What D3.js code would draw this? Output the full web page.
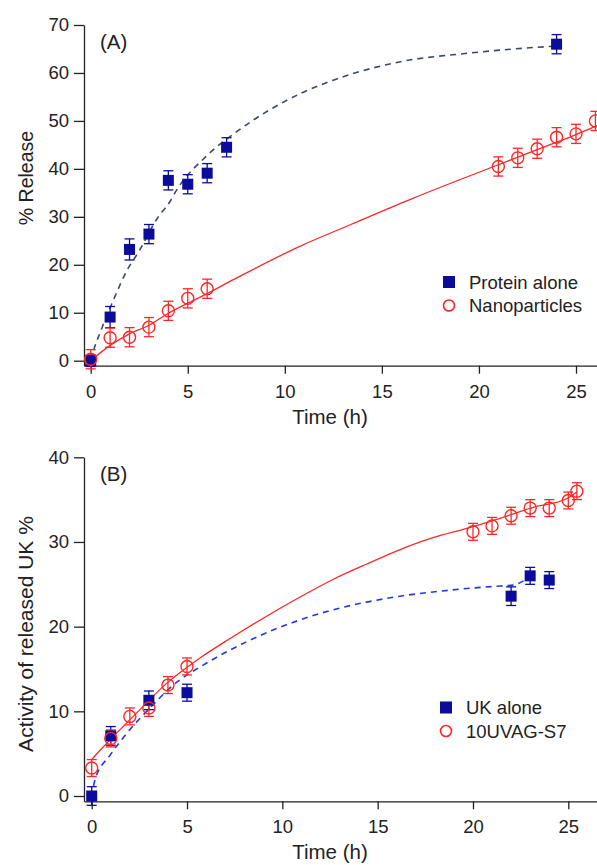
<!DOCTYPE html>
<html>
<head>
  <meta charset="utf-8">
  <title>Release profiles</title>
  <script src="https://cdn.jsdelivr.net/npm/d3@7"></script>
  <style>
    body { margin: 0; background: #fff; }
    svg text { font-family: "Liberation Sans", Arial, sans-serif; fill: #222; }
  </style>
</head>
<body>
<div id="container"></div>
<script>
  // ---- panel A data ----
  var timeProtein = [0, 1, 2, 3, 4, 5, 6, 7, 24];
  var releaseProtein = [0, 9.1, 23.2, 26.4, 37.6, 36.8, 39.1, 44.5, 66.0];
  var errProtein = [1.2, 2.2, 2.2, 2.0, 2.0, 2.0, 2.0, 2.0, 2.0];

  var timeNano = [0, 1, 2, 3, 4, 5, 6, 21, 22, 23, 24, 25, 26];
  var releaseNano = [0.3, 4.8, 4.9, 7.0, 10.4, 13.0, 15.0, 40.5, 42.3, 44.2, 46.6, 47.3, 50.0];
  var errNano = [2, 2, 2, 2, 2, 2, 2, 2, 2, 2, 2, 2, 2];

  // fitted curves, panel A
  var fitProteinT = [0, 0.2, 0.5, 1.25, 1.85, 2.5, 3.4, 4.1, 4.4, 6, 7.5, 10.8, 12.5, 15.9, 19.4, 22.8, 24];
  var fitProteinY = [0, 2.8, 6, 13.4, 18.7, 22.9, 29.5, 33.3, 35.4, 42.8, 47.7, 55.7, 58.5, 62.3, 64.1, 65.3, 65.6];
  var fitNanoT = [0, 1, 2, 3, 4, 5, 6, 7.35, 10.8, 13.4, 16.5, 20.9, 23, 24.9, 26.2];
  var fitNanoY = [0, 3.2, 5.6, 7.4, 9.9, 12, 14, 16.9, 23.9, 28.4, 33.7, 40.7, 44, 47, 49.2];

  // ---- panel B data ----
  var timeUK = [0, 1, 3, 5, 22, 23, 24];
  var activityUK = [0, 7.1, 11.3, 12.2, 23.6, 26.0, 25.5];
  var errUK = [1.1, 1.1, 1.1, 1.0, 1.1, 1.0, 1.0];

  var timeUVAG = [0, 1, 2, 3, 4, 5, 20, 21, 22, 23, 24, 25, 25.45];
  var activityUVAG = [3.3, 6.8, 9.4, 10.4, 13.1, 15.3, 31.2, 31.9, 33.1, 34.0, 34.0, 34.9, 36.0];
  var errUVAG = [1, 1, 1, 1, 1, 1, 1, 1, 1, 1, 1, 1, 1];

  var fitUKT = [0.1, 0.17, 0.96, 1.84, 3.06, 4.28, 6.03, 8.3, 10.93, 12.68, 14.43, 16.18, 17.9, 19.67, 21.42, 22.1, 22.8];
  var fitUKY = [1.2, 1.9, 4.8, 7.4, 10.4, 13.1, 15.7, 18.4, 20.8, 22.0, 22.9, 23.6, 24.1, 24.5, 24.8, 24.9, 25.6];
  var fitUVAGT = [0, 0.44, 2.18, 3.93, 5.68, 7.26, 10.93, 12.68, 14.43, 16.18, 17.9, 19.67, 21.42, 23.17, 24.9, 25.45];
  var fitUVAGY = [4.3, 5.4, 9.4, 13.3, 16.3, 18.6, 23.5, 25.6, 27.4, 29.1, 30.5, 31.6, 32.8, 34.1, 35.1, 35.9];

  var xTicks = [0, 5, 10, 15, 20, 25];
  var yTicksA = [0, 10, 20, 30, 40, 50, 60, 70];
  var yTicksB = [0, 10, 20, 30, 40];

  var blue = "#0b0b9c";
  var red = "#ff2626";

  var svg = d3.select("#container").append("svg")
    .attr("width", 597).attr("height", 865);

  function zip(a, b, e) {
    return a.map(function(d, i) { return { t: d, v: b[i], e: e ? e[i] : 0 }; });
  }

  function drawPanel(cfg) {
    var x = d3.scaleLinear().domain([0, 25]).range(cfg.xr);
    var y = d3.scaleLinear().domain([0, cfg.ymax]).range(cfg.yr);
    var g = svg.append("g");

    // axes: domain path runs from the axis corner to the edges
    var xa = x.copy().domain([x.invert(cfg.left), x.invert(597)]).range([cfg.left, 597]);
    var ya = y.copy().domain([y.invert(cfg.bottom), cfg.ymax]).range([cfg.bottom, cfg.yr[1]]);

    var gx = g.append("g").attr("transform", "translate(0," + cfg.bottom + ")")
      .call(d3.axisBottom(xa).tickValues(xTicks).tickSizeOuter(0).tickSizeInner(8).tickPadding(11));
    var gy = g.append("g").attr("transform", "translate(" + cfg.left + ",0)")
      .call(d3.axisLeft(ya).tickValues(cfg.yTicks).tickSizeOuter(0).tickSizeInner(10).tickPadding(5));
    [gx, gy].forEach(function(a) {
      a.selectAll("path,line").attr("stroke", "#222").attr("stroke-width", 1.3);
      a.selectAll("text").style("font-size", "18.5px").attr("fill", "#222");
    });

    // fitted lines
    var line = d3.line().x(function(d) { return x(d.t); }).y(function(d) { return y(d.v); })
      .curve(d3.curveMonotoneX);
    g.append("path").datum(zip(cfg.fitRedT, cfg.fitRedY))
      .attr("d", line).attr("fill", "none").attr("stroke", red).attr("stroke-width", 1.3);
    g.append("path").datum(zip(cfg.fitBlueT, cfg.fitBlueY))
      .attr("d", line).attr("fill", "none").attr("stroke", cfg.dashColor)
      .attr("stroke-width", 1.6).attr("stroke-dasharray", "6,5");

    // error bars
    function errBars(data, color) {
      var eb = g.append("g").selectAll("g").data(data).enter().append("g")
        .attr("stroke", color).attr("stroke-width", 1.3);
      eb.append("line").attr("x1", function(d) { return x(d.t); }).attr("x2", function(d) { return x(d.t); })
        .attr("y1", function(d) { return y(d.v - d.e); }).attr("y2", function(d) { return y(d.v + d.e); });
      eb.append("line").attr("x1", function(d) { return x(d.t) - 5; }).attr("x2", function(d) { return x(d.t) + 5; })
        .attr("y1", function(d) { return y(d.v + d.e); }).attr("y2", function(d) { return y(d.v + d.e); });
      eb.append("line").attr("x1", function(d) { return x(d.t) - 5; }).attr("x2", function(d) { return x(d.t) + 5; })
        .attr("y1", function(d) { return y(d.v - d.e); }).attr("y2", function(d) { return y(d.v - d.e); });
    }
    errBars(zip(cfg.blueT, cfg.blueV, cfg.blueE), blue);
    errBars(zip(cfg.redT, cfg.redV, cfg.redE), red);

    // markers
    g.append("g").selectAll("rect").data(zip(cfg.blueT, cfg.blueV)).enter().append("rect")
      .attr("x", function(d) { return x(d.t) - 5.5; }).attr("y", function(d) { return y(d.v) - 5.5; })
      .attr("width", 11).attr("height", 11).attr("fill", blue);
    g.append("g").selectAll("circle").data(zip(cfg.redT, cfg.redV)).enter().append("circle")
      .attr("cx", function(d) { return x(d.t); }).attr("cy", function(d) { return y(d.v); })
      .attr("r", 6).attr("fill", "none").attr("stroke", red).attr("stroke-width", 1.4);

    // labels
    g.append("text").attr("x", 100).attr("y", cfg.tagY).style("font-size", "20.5px").text(cfg.tag);
    g.append("text").attr("x", 330).attr("y", cfg.titleY).attr("text-anchor", "middle")
      .style("font-size", "20.5px").text("Time (h)");
    g.append("text").attr("transform", "translate(" + 33 + "," + cfg.ylabelY + ") rotate(-90)")
      .attr("text-anchor", "middle").style("font-size", cfg.ylabelSize).text(cfg.ylabel);

    // legend
    var lg = g.append("g").attr("transform", "translate(" + cfg.legX + "," + cfg.legY + ")");
    lg.append("rect").attr("x", -6).attr("y", -6).attr("width", 12).attr("height", 12).attr("fill", blue);
    lg.append("circle").attr("cx", 0).attr("cy", 23.5).attr("r", 5.5)
      .attr("fill", "none").attr("stroke", red).attr("stroke-width", 1.6);
    lg.append("text").attr("x", 20).attr("y", 6.5).style("font-size", "18.5px").text(cfg.leg1);
    lg.append("text").attr("x", 20).attr("y", 30).style("font-size", "18.5px").text(cfg.leg2);
  }

  drawPanel({
    xr: [90.7, 576], yr: [360.7, 25], ymax: 70, left: 84, bottom: 365.7, yTicks: yTicksA,
    blueT: timeProtein, blueV: releaseProtein, blueE: errProtein,
    redT: timeNano, redV: releaseNano, redE: errNano,
    fitBlueT: fitProteinT, fitBlueY: fitProteinY, fitRedT: fitNanoT, fitRedY: fitNanoY,
    dashColor: "#3c4868", tag: "(A)", tagY: 49, titleY: 424,
    ylabel: "% Release", ylabelY: 178, ylabelSize: "19.5px",
    legX: 449, legY: 282, leg1: "Protein alone", leg2: "Nanoparticles"
  });

  drawPanel({
    xr: [91.7, 568.3], yr: [796, 457.3], ymax: 40, left: 84, bottom: 801.3, yTicks: yTicksB,
    blueT: timeUK, blueV: activityUK, blueE: errUK,
    redT: timeUVAG, redV: activityUVAG, redE: errUVAG,
    fitBlueT: fitUKT, fitBlueY: fitUKY, fitRedT: fitUVAGT, fitRedY: fitUVAGY,
    dashColor: "#2438e0", tag: "(B)", tagY: 481, titleY: 859,
    ylabel: "Activity of released UK %", ylabelY: 634, ylabelSize: "21px",
    legX: 446, legY: 707.5, leg1: "UK alone", leg2: "10UVAG-S7"
  });
</script>
</body>
</html>
